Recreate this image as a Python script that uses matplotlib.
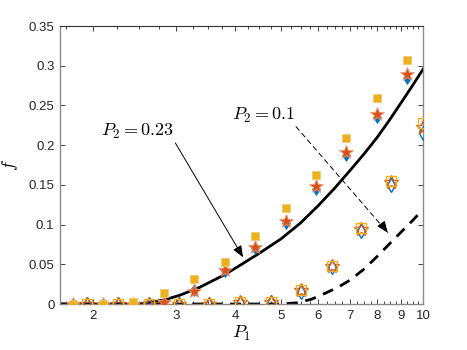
import matplotlib
matplotlib.use("Agg")
import matplotlib.pyplot as plt
from matplotlib.ticker import FixedLocator, MultipleLocator, FuncFormatter, NullFormatter

plt.rcParams['mathtext.fontset'] = 'cm'
plt.rcParams['font.family'] = ['Liberation Sans', 'DejaVu Sans']

# P2 = 0.23 case (filled markers)
p1_a = [1.81, 2.10, 2.43, 2.82, 3.27, 3.81, 4.41, 5.13, 5.94, 6.88, 8.00, 9.27]
diam_a = [0.0, 0.0, 0.0, 0.002, 0.018, 0.041, 0.070, 0.102, 0.145, 0.188, 0.235, 0.284]
star_a = [0.0, 0.0, 0.0, 0.003, 0.016, 0.043, 0.072, 0.105, 0.148, 0.191, 0.239, 0.290]
sq_a = [0.0, 0.0, 0.003, 0.0135, 0.031, 0.053, 0.086, 0.121, 0.162, 0.209, 0.259, 0.307]

# P2 = 0.1 case (open markers)
p1_b = [1.94, 2.26, 2.63, 3.04, 3.52, 4.10, 4.75, 5.52, 6.40, 7.40, 8.57, 10.0]
diam_b = [0.0, 0.0, 0.0, 0.0, 0.0, 0.001, 0.002, 0.015, 0.046, 0.092, 0.150, 0.215]
star_b = [0.0, 0.0, 0.0, 0.0, 0.0, 0.002, 0.003, 0.018, 0.048, 0.095, 0.154, 0.2225]
sq_b = [0.0, 0.0, 0.0, 0.0, 0.0, 0.002, 0.003, 0.018, 0.048, 0.096, 0.155, 0.228]

# model curves
curve_a_x = [1.7, 2.45, 2.6, 2.82, 3.05, 3.36, 3.8, 4.1, 4.5, 5.0, 5.5, 6.0, 6.5,
             7.0, 7.5, 8.0, 8.5, 9.0, 9.5, 10.0]
curve_a_f = [0.0, 0.0, 0.0015, 0.005, 0.011, 0.021, 0.037, 0.049, 0.064, 0.082, 0.102,
             0.124, 0.146, 0.168, 0.189, 0.21, 0.232, 0.254, 0.275, 0.2955]
curve_b_x = [1.7, 5.0, 5.4, 5.8, 6.2, 6.6, 7.0, 7.5, 8.0, 8.5, 9.0, 9.5, 10.0]
curve_b_f = [0.0, 0.0, 0.0015, 0.006, 0.0135, 0.021, 0.030, 0.044, 0.060, 0.076,
             0.091, 0.105, 0.119]

x_ticks = [2, 3, 4, 5, 6, 7, 8, 9, 10]
y_ticks = [0, 0.05, 0.1, 0.15, 0.2, 0.25, 0.3, 0.35]

blue = '#0072BD'
red = '#D95319'
yellow = '#EDB120'

fig = plt.figure(figsize=(4.67, 3.5), dpi=100)
ax = fig.add_axes([0.1285, 0.1314, 0.7773, 0.7943])

ax.plot(curve_a_x, curve_a_f, color='black', lw=2.0, zorder=2)
ax.plot(curve_b_x, curve_b_f, color='black', lw=2.0, dashes=(4, 2.8), zorder=2)

# filled markers
ax.plot(p1_a, diam_a, 'd', ms=6.5, color=blue, mec=blue, mew=0.5, ls='none', zorder=3)
ax.plot(p1_a, star_a, '*', ms=10.5, color=red, mec='#EE9A78', mew=0.6, ls='none', zorder=4)
ax.plot(p1_a, sq_a, 's', ms=6.2, color=yellow, mec='#F3CB70', mew=0.6, ls='none', zorder=5)

# open markers
ax.plot(p1_b, diam_b, 'd', ms=7, mfc='none', mec=blue, mew=1.0, ls='none', zorder=3)
ax.plot(p1_b, star_b, '*', ms=10.5, mfc='none', mec=red, mew=1.0, ls='none', zorder=4)
ax.plot(p1_b, sq_b, 's', ms=6.5, mfc='none', mec=yellow, mew=1.0, ls='none', zorder=5)

ax.set_xscale('log')
ax.set_xlim(1.7, 10)
ax.set_ylim(0, 0.35)
ax.xaxis.set_major_locator(FixedLocator(x_ticks))
ax.xaxis.set_major_formatter(FuncFormatter(lambda v, p: '%g' % v))
ax.xaxis.set_minor_locator(MultipleLocator(0.25))
ax.xaxis.set_minor_formatter(NullFormatter())
ax.yaxis.set_major_locator(FixedLocator(y_ticks))
ax.yaxis.set_major_formatter(FuncFormatter(lambda v, p: '%g' % v))

ax.tick_params(which='both', direction='in', top=True, right=True,
               colors='#262626', labelsize=9.5, width=0.6)
ax.tick_params(which='major', length=3.5, pad=4)
ax.tick_params(which='minor', length=2)
for side in ['left', 'right', 'bottom']:
    ax.spines[side].set_color('#8a8a8a')
    ax.spines[side].set_linewidth(1.0)
ax.spines['top'].set_color('#333333')
ax.spines['top'].set_linewidth(0.8)

ax.set_xlabel('$P_1$', fontsize=13, labelpad=2)
ax.set_ylabel('$f$', fontsize=13, labelpad=6)

# annotations
ax.text(2.08, 0.2166, '$P_2 = 0.23$', fontsize=13, va='center', ha='left')
ax.annotate('', xy=(4.155, 0.0588), xytext=(2.985, 0.2028),
            arrowprops=dict(arrowstyle='-|>,head_length=0.7,head_width=0.28',
                            color='black', lw=0.7, shrinkA=0, shrinkB=0))

ax.text(3.94, 0.2368, '$P_2 = 0.1$', fontsize=13, va='center', ha='left')
ax.annotate('', xy=(8.42, 0.0898), xytext=(5.38, 0.2233),
            arrowprops=dict(arrowstyle='-', color='black', lw=0.7,
                            linestyle=(0, (5, 4)), shrinkA=0, shrinkB=0))
ax.annotate('', xy=(8.42, 0.0898), xytext=(8.2, 0.099),
            arrowprops=dict(arrowstyle='-|>,head_length=0.7,head_width=0.28',
                            color='black', lw=0.7, shrinkA=0, shrinkB=0))

fig.savefig('out.png', dpi=100)
